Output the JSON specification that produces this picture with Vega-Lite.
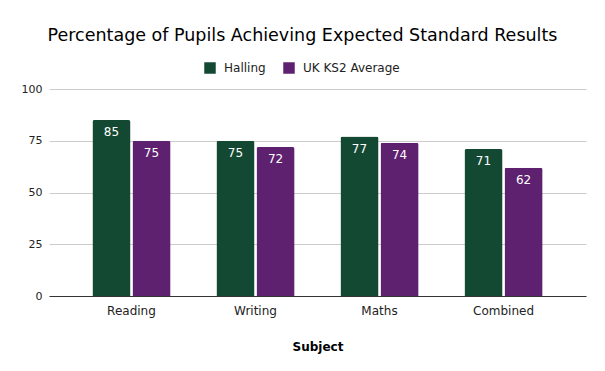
{
  "$schema": "https://vega.github.io/schema/vega-lite/v6.json",
  "width": 537,
  "height": 207,
  "autosize": {"type": "none"},
  "padding": {"left": 49, "top": 89, "right": 19, "bottom": 75},
  "background": "white",
  "title": {
    "text": "Percentage of Pupils Achieving Expected Standard Results",
    "font": "DejaVu Sans",
    "fontSize": 17.5,
    "fontWeight": "normal",
    "color": "#000000",
    "anchor": "middle",
    "frame": "group",
    "dx": -15,
    "offset": 18
  },
  "config": {
    "view": {"stroke": null},
    "font": "DejaVu Sans"
  },
  "data": {
    "values": [
      {"Subject": "Reading", "Series": "Halling", "Value": 85},
      {"Subject": "Reading", "Series": "UK KS2 Average", "Value": 75},
      {"Subject": "Writing", "Series": "Halling", "Value": 75},
      {"Subject": "Writing", "Series": "UK KS2 Average", "Value": 72},
      {"Subject": "Maths", "Series": "Halling", "Value": 77},
      {"Subject": "Maths", "Series": "UK KS2 Average", "Value": 74},
      {"Subject": "Combined", "Series": "Halling", "Value": 71},
      {"Subject": "Combined", "Series": "UK KS2 Average", "Value": 62}
    ]
  },
  "encoding": {
    "x": {
      "field": "Subject",
      "type": "nominal",
      "sort": ["Reading", "Writing", "Maths", "Combined"],
      "scale": {"paddingInner": 0.37, "paddingOuter": 0.35},
      "axis": {
        "title": "Subject",
        "titleFont": "DejaVu Sans",
        "titleFontSize": 12,
        "titleFontWeight": "bold",
        "titleColor": "#000000",
        "titlePadding": 25,
        "labelAngle": 0,
        "labelFont": "DejaVu Sans",
        "labelFontSize": 12,
        "labelColor": "#222222",
        "labelPadding": 9,
        "ticks": false,
        "domainColor": "#333333",
        "domainWidth": 1,
        "grid": false
      }
    },
    "xOffset": {
      "field": "Series",
      "type": "nominal",
      "scale": {"paddingInner": 0.05, "paddingOuter": 0}
    },
    "y": {
      "field": "Value",
      "type": "quantitative",
      "scale": {"domain": [0, 100]},
      "axis": {
        "title": null,
        "values": [0, 25, 50, 75, 100],
        "labelFont": "DejaVu Sans",
        "labelFontSize": 11,
        "labelColor": "#222222",
        "labelPadding": 7,
        "ticks": false,
        "domain": false,
        "gridColor": "#cccccc",
        "gridWidth": 1
      }
    }
  },
  "layer": [
    {
      "mark": {"type": "bar", "cornerRadiusTopLeft": 2, "cornerRadiusTopRight": 2},
      "encoding": {
        "color": {
          "field": "Series",
          "type": "nominal",
          "scale": {"domain": ["Halling", "UK KS2 Average"], "range": ["#134933", "#5d216f"]},
          "legend": {
            "title": null,
            "orient": "none",
            "direction": "horizontal",
            "legendX": 155,
            "legendY": -27,
            "padding": 0,
            "symbolType": "square",
            "symbolSize": 132,
            "symbolStrokeWidth": 0,
            "symbolOpacity": 1,
            "labelFont": "DejaVu Sans",
            "labelFontSize": 12,
            "labelColor": "#222222",
            "labelOffset": 8,
            "columnPadding": 17
          }
        }
      }
    },
    {
      "mark": {"type": "text", "color": "white", "baseline": "alphabetic", "dy": 16, "font": "DejaVu Sans", "fontSize": 12},
      "encoding": {
        "text": {"field": "Value", "type": "quantitative"}
      }
    }
  ]
}
